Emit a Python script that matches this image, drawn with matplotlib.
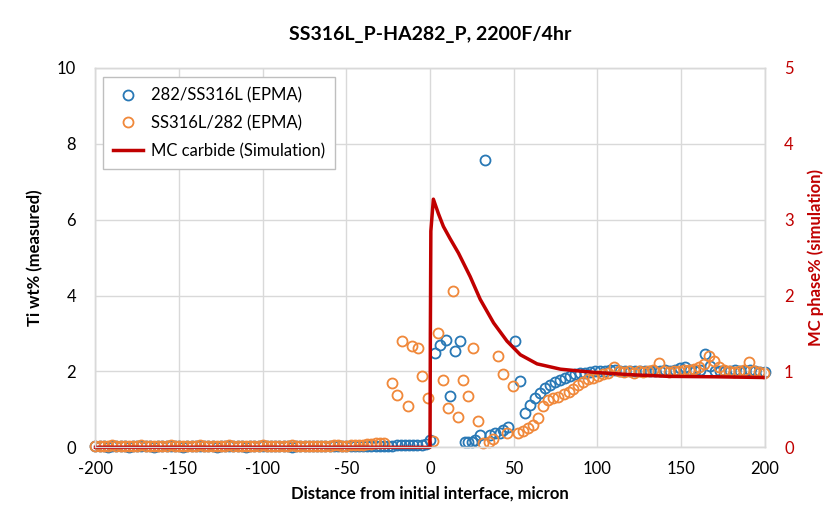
#!/usr/bin/env python3

import numpy as np
import matplotlib
matplotlib.use('Agg')
import matplotlib.pyplot as plt
from matplotlib.lines import Line2D

plt.rcParams['font.family'] = ['Lato', 'DejaVu Sans']
plt.rcParams['axes.unicode_minus'] = False

# EPMA step grid for the flat (unreacted) part of the profile
dist_flat = np.arange(-200, 0, 2.5)

# 282/SS316L (EPMA), Ti wt%
ti_blue_flat = [
    0.03, 0.03, 0.03, 0.02, 0.03, 0.03, 0.03, 0.03, 0.02, 0.03,
    0.03, 0.03, 0.03, 0.03, 0.02, 0.03, 0.03, 0.03, 0.03, 0.03,
    0.03, 0.02, 0.03, 0.03, 0.03, 0.03, 0.03, 0.03, 0.03, 0.02,
    0.03, 0.03, 0.03, 0.03, 0.03, 0.03, 0.02, 0.03, 0.03, 0.03,
    0.03, 0.03, 0.03, 0.03, 0.03, 0.03, 0.03, 0.02, 0.03, 0.03,
    0.03, 0.03, 0.03, 0.03, 0.03, 0.04, 0.03, 0.03, 0.03, 0.03,
    0.03, 0.03, 0.03, 0.03, 0.03, 0.03, 0.03, 0.03, 0.03, 0.03,
    0.04, 0.04, 0.05, 0.05, 0.05, 0.06, 0.06, 0.07, 0.07, 0.08,
]
dist_blue = [
    0, 3, 6, 9.4, 12, 14.8, 17.9, 21, 23, 25, 27, 30, 32.9, 35.9, 39,
    41.9, 43.9, 46.9, 50.8, 53.8, 56.8, 59.8, 62.8, 65.8, 68.8, 71.8,
    74.8, 77.8, 80.8, 83.7, 86.7, 89.7, 92.7, 95.7, 98.7, 101.7, 104.7,
    107.7, 110.7, 113.6, 116.6, 119.6, 122.6, 125.6, 128.6, 131.6, 134.6,
    137.6, 140.6, 143.6, 146.6, 149.6, 152.6, 155.6, 158.6, 161.6, 164.5,
    167.5, 170.5, 173.5, 176.5, 179.5, 182.5, 185.5, 188.5, 191.5, 194.4,
    197.4, 200,
]
ti_blue = [
    0.20, 2.49, 2.70, 2.82, 1.36, 2.55, 2.81, 0.15, 0.15, 0.15, 0.20, 0.33,
    7.57, 0.33, 0.38, 0.37, 0.46, 0.53, 2.79, 1.76, 0.90, 1.12, 1.30, 1.43,
    1.56, 1.65, 1.71, 1.78, 1.83, 1.87, 1.92, 1.95, 1.97, 1.99, 2.00, 2.01,
    2.02, 2.03, 2.04, 2.02, 2.00, 2.01, 2.00, 2.02, 2.00, 2.01, 2.02, 2.00,
    2.03, 2.01, 2.04, 2.10, 2.12, 2.05, 2.02, 2.05, 2.47, 2.15, 2.02, 2.00,
    2.02, 2.01, 2.05, 2.02, 2.00, 2.03, 2.00, 1.99, 1.98,
]

# SS316L/282 (EPMA), Ti wt%
ti_orange_flat = [
    0.04, 0.04, 0.04, 0.04, 0.05, 0.04, 0.04, 0.04, 0.04, 0.04,
    0.04, 0.05, 0.04, 0.04, 0.04, 0.04, 0.04, 0.04, 0.05, 0.04,
    0.04, 0.04, 0.04, 0.04, 0.04, 0.05, 0.04, 0.04, 0.04, 0.04,
    0.04, 0.04, 0.05, 0.04, 0.04, 0.04, 0.04, 0.04, 0.04, 0.04,
    0.05, 0.04, 0.04, 0.04, 0.04, 0.04, 0.04, 0.05, 0.04, 0.04,
    0.04, 0.04, 0.04, 0.04, 0.04, 0.04, 0.04, 0.05, 0.05, 0.04,
    0.04, 0.05, 0.05, 0.06, 0.06, 0.08, 0.10, 0.12, 0.12, 0.12,
]
dist_orange = [
    -22.5, -19.5, -16.5, -13, -10.5, -7, -4.5, -1, 2, 5, 8, 10.5, 13.5,
    16.5, 19.5, 22.5, 25.5, 28.5, 31.9, 35, 37.9, 40.9, 43.5, 45.9, 49.8,
    52.8, 55.8, 58.8, 61.8, 64.8, 67.8, 70.8, 73.8, 76.8, 79.8, 82.8,
    85.7, 88.7, 91.7, 94.7, 97.7, 100.7, 103.7, 106.7, 109.7, 112.7,
    115.7, 118.7, 121.7, 124.7, 127.6, 130.6, 133.6, 136.6, 139.6, 142.6,
    145.6, 148.6, 151.6, 154.6, 157.6, 160.6, 163.6, 166.5, 169.5, 172.5,
    175.5, 178.5, 181.5, 184.5, 187.5, 190.4, 193.4, 196.4, 199.4,
]
ti_orange = [
    1.69, 1.37, 2.79, 1.10, 2.66, 2.63, 1.87, 1.31, 0.18, 3.01, 1.78, 1.05,
    4.13, 0.81, 1.78, 1.36, 2.62, 0.70, 0.11, 0.15, 0.22, 2.41, 1.93, 0.37,
    1.62, 0.37, 0.42, 0.51, 0.59, 0.77, 1.08, 1.25, 1.30, 1.34, 1.40, 1.47,
    1.55, 1.63, 1.72, 1.79, 1.84, 1.89, 1.93, 1.97, 2.12, 2.02, 1.98, 2.00,
    1.97, 2.00, 1.99, 2.01, 2.03, 2.22, 2.00, 1.98, 2.02, 2.00, 2.05, 2.03,
    2.06, 2.12, 2.20, 2.41, 2.28, 2.12, 2.05, 2.00, 1.98, 2.00, 2.03, 2.24,
    2.02, 1.98, 1.97,
]

# MC carbide (Simulation), phase%
dist_sim = [-200, -100, 0, 0.2, 0.5, 2, 5, 8, 12, 17, 24, 30, 38, 46, 54,
            64, 72, 78, 92, 100, 122, 143, 170, 200]
mc_sim = [0, 0, 0, 1.5, 2.85, 3.27, 3.08, 2.91, 2.75, 2.56, 2.25, 1.95,
          1.64, 1.40, 1.22, 1.10, 1.06, 1.03, 1.00, 0.985, 0.955, 0.935,
          0.93, 0.92]

BLUE = '#2878B5'
ORANGE = '#F0883A'
RED = '#C00000'
GRID = '#D9D9D9'

fig = plt.figure(figsize=(8.23, 5.22), dpi=100)
ax = fig.add_axes([0.116, 0.143, 0.813, 0.727])
ax2 = ax.twinx()

mk = dict(linestyle='none', marker='o', markersize=7.2, markerfacecolor='none',
          markeredgewidth=1.3)
ax.plot(dist_flat, ti_blue_flat, markeredgecolor=BLUE, clip_on=False, **mk)
ax.plot(dist_blue, ti_blue, markeredgecolor=BLUE, clip_on=False, **mk)
ax.plot(dist_flat[:len(ti_orange_flat)], ti_orange_flat, markeredgecolor=ORANGE,
        clip_on=False, **mk)
ax.plot(dist_orange, ti_orange, markeredgecolor=ORANGE, clip_on=False, **mk)

ax2.plot(dist_sim, mc_sim, color=RED, linewidth=2.5, solid_joinstyle='round',
         clip_on=False)

ax.set_xlim(-200, 200)
ax.set_ylim(0, 10)
ax2.set_ylim(0, 5)
ax.set_xticks(np.arange(-200, 201, 50))
ax.set_yticks(np.arange(0, 11, 2))
ax2.set_yticks(np.arange(0, 6, 1))

ax.grid(True, color=GRID, linewidth=1)
ax.set_axisbelow(True)
for a in (ax, ax2):
    for s in a.spines.values():
        s.set_color(GRID)
        s.set_linewidth(1)
    a.tick_params(length=0, labelsize=12, pad=8)
ax.tick_params(axis='y', pad=14)
ax2.tick_params(axis='y', colors=RED, pad=14)
ax.tick_params(axis='x', pad=10)

ax.set_xlabel('Distance from initial interface, micron', fontsize=12,
              fontweight='bold', labelpad=6)
ax.set_ylabel('Ti wt% (measured)', fontsize=12, fontweight='bold', labelpad=10)
ax2.set_ylabel('MC phase% (simulation)', fontsize=12, fontweight='bold',
               color=RED, labelpad=10)
ax.set_title('SS316L_P-HA282_P, 2200F/4hr', fontsize=14, fontweight='bold',
             pad=20)

handles = [
    Line2D([], [], markeredgecolor=BLUE, **mk),
    Line2D([], [], markeredgecolor=ORANGE, **mk),
    Line2D([], [], color=RED, linewidth=2.5),
]
labels = ['282/SS316L (EPMA)', 'SS316L/282 (EPMA)', 'MC carbide (Simulation)']
leg = ax2.legend(handles, labels, loc='upper left', bbox_to_anchor=(0.011, 0.975),
                 fontsize=12, fancybox=False, edgecolor='#BFBFBF', framealpha=1,
                 borderpad=0.6, labelspacing=0.7, handlelength=1.8,
                 handletextpad=0.5, borderaxespad=0)
leg.get_frame().set_linewidth(1)
leg.set_zorder(5)

fig.savefig('out.png', dpi=100)
